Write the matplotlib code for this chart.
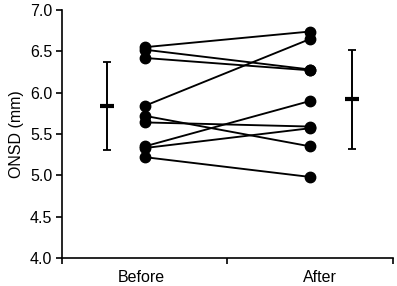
"""Paired ONSD measurements before and after, with mean +/- SD bars."""

import matplotlib.pyplot as plt
import numpy as np

plt.rcParams["font.family"] = ["Liberation Sans", "DejaVu Sans"]

# paired values (mm)
before = [6.55, 6.52, 6.42, 5.84, 5.72, 5.64, 5.35, 5.33, 5.22]
after = [6.74, 6.28, 6.27, 6.65, 5.35, 5.59, 5.90, 5.57, 4.98]

# summary bars (mean and SD) as drawn beside each column
before_mean, before_sd = 5.84, 0.53
after_mean, after_sd = 5.92, 0.60

categories = ["Before", "After"]
y_ticks = [4.0, 4.5, 5.0, 5.5, 6.0, 6.5, 7.0]

fig = plt.figure(figsize=(3.97, 2.86), dpi=100)
ax = fig.add_axes([0.156, 0.098, 0.834, 0.867])

# individual subjects: one line per pair
x_pair = [0.5, 1.5]
for b, a in zip(before, after):
    ax.plot(x_pair, [b, a], color="black", lw=1.35, marker="o",
            markersize=7.5, markerfacecolor="black", markeredgecolor="black",
            zorder=3)

# mean +/- SD next to each column
ax.errorbar([0.27, 1.75], [before_mean, after_mean], yerr=[before_sd, after_sd],
            fmt="none", ecolor="black", elinewidth=1.4, capsize=3.0,
            capthick=1.3, zorder=2)
ax.plot([0.27, 1.75], [before_mean, after_mean], linestyle="none", marker="_",
        markersize=10, markeredgewidth=3, color="black", zorder=2)

ax.set_xlim(0, 2)
ax.set_ylim(4.0, 7.0)
ax.set_yticks(y_ticks)
ax.set_yticklabels([f"{v:.1f}" for v in y_ticks])
ax.set_xticks([0, 1, 2])
ax.set_xticklabels([])
# category labels sit slightly off the column centres in the original
ax.set_xticks([0.48, 1.56], minor=True)
ax.set_xticklabels(categories, minor=True)
ax.tick_params(axis="x", which="minor", length=0, pad=9, labelsize=11.5)
ax.tick_params(axis="x", which="major", length=4, width=1.2, direction="out")
ax.tick_params(axis="y", length=4, width=1.2, direction="out", labelsize=11.5,
               pad=3)
ax.set_ylabel("ONSD (mm)", fontsize=11.5, labelpad=4)

for side in ("top", "right"):
    ax.spines[side].set_visible(False)
for side in ("left", "bottom"):
    ax.spines[side].set_linewidth(1.2)

fig.savefig("out.png", dpi=100)
